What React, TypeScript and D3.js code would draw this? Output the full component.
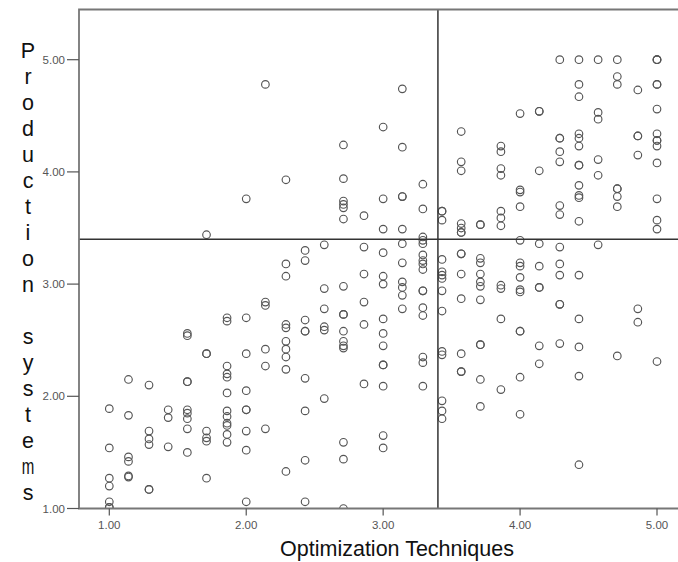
import React from "react";
import * as d3 from "d3";

// Optimization Techniques score levels (x) and the Production systems scores observed at each level (y)
const optimizationLevels = [
  1.0, 1.14, 1.29, 1.43, 1.57, 1.71, 1.86, 2.0, 2.14, 2.29, 2.43, 2.57, 2.71, 2.86, 3.0,
  3.14, 3.29, 3.43, 3.57, 3.71, 3.86, 4.0, 4.14, 4.29, 4.43, 4.57, 4.71, 4.86, 5.0,
];

const productionByLevel: number[][] = [
  [1.89, 1.54, 1.27, 1.2, 1.06, 1.01, 1.01],
  [2.15, 1.83, 1.46, 1.42, 1.29, 1.28],
  [2.1, 1.69, 1.62, 1.57, 1.17, 1.17],
  [1.88, 1.81, 1.55],
  [2.56, 2.54, 2.13, 2.13, 1.88, 1.85, 1.8, 1.71, 1.5],
  [3.44, 2.38, 2.38, 1.69, 1.63, 1.6, 1.27],
  [2.7, 2.67, 2.27, 2.2, 2.17, 2.03, 1.87, 1.82, 1.76, 1.74, 1.66, 1.59],
  [3.76, 2.7, 2.38, 2.05, 1.88, 1.88, 1.69, 1.52, 1.06],
  [4.78, 2.84, 2.81, 2.42, 2.27, 1.71],
  [3.93, 3.18, 3.07, 2.64, 2.61, 2.49, 2.42, 2.35, 2.24, 1.33],
  [3.3, 3.21, 2.68, 2.58, 2.58, 2.16, 1.87, 1.43, 1.06],
  [3.35, 2.96, 2.78, 2.62, 2.59, 1.98],
  [4.24, 3.94, 3.74, 3.71, 3.68, 3.58, 2.98, 2.73, 2.73, 2.58, 2.49, 2.45, 2.43, 1.59, 1.44, 1.0],
  [3.61, 3.33, 3.09, 2.84, 2.64, 2.11],
  [4.4, 3.76, 3.49, 3.28, 3.07, 3.0, 2.69, 2.56, 2.45, 2.28, 2.28, 2.09, 1.65, 1.54],
  [4.74, 4.22, 3.78, 3.78, 3.49, 3.36, 3.19, 3.02, 2.97, 2.9, 2.78],
  [3.89, 3.67, 3.42, 3.39, 3.36, 3.26, 3.21, 3.18, 3.13, 2.94, 2.94, 2.79, 2.72, 2.35, 2.3, 2.09],
  [3.65, 3.65, 3.57, 3.22, 3.11, 3.08, 3.05, 2.94, 2.76, 2.4, 2.37, 1.96, 1.87, 1.8],
  [4.36, 4.09, 4.01, 3.54, 3.5, 3.46, 3.46, 3.27, 3.27, 3.09, 2.87, 2.38, 2.22, 2.22],
  [3.53, 3.53, 3.23, 3.19, 3.09, 3.02, 2.98, 2.86, 2.46, 2.46, 2.15, 1.91],
  [4.23, 4.18, 4.03, 3.97, 3.65, 3.59, 3.52, 2.99, 2.96, 2.69, 2.06],
  [4.52, 3.84, 3.82, 3.69, 3.39, 3.19, 3.16, 3.06, 2.95, 2.93, 2.58, 2.58, 2.17, 1.84],
  [4.54, 4.54, 4.01, 3.36, 3.16, 2.97, 2.97, 2.45, 2.29],
  [5.0, 4.3, 4.3, 4.18, 4.09, 3.7, 3.62, 3.33, 3.18, 3.08, 2.82, 2.82, 2.47],
  [5.0, 4.78, 4.67, 4.34, 4.3, 4.23, 4.06, 4.06, 3.88, 3.79, 3.77, 3.56, 3.08, 2.69, 2.44, 2.18, 1.39],
  [5.0, 4.53, 4.47, 4.11, 3.97, 3.35],
  [5.0, 4.85, 4.78, 3.85, 3.85, 3.78, 3.69, 2.36],
  [4.73, 4.32, 4.32, 4.15, 2.78, 2.66],
  [5.0, 5.0, 5.0, 4.78, 4.78, 4.56, 4.34, 4.28, 4.28, 4.23, 4.08, 3.76, 3.57, 3.49, 2.31],
];

const meanOptimization = 3.4;
const meanProduction = 3.4;

const xTicks = [1, 2, 3, 4, 5];
const yTicks = [1, 2, 3, 4, 5];
const xTitle = "Optimization Techniques";
const yTitle = "Production systems";

const W = 678;
const H = 562;
const plot = { left: 79, top: 9.5, right: 700, bottom: 508.5 };

export default function App() {
  const x = d3.scaleLinear().domain([1, 5]).range([109.3, 657]);
  const y = d3.scaleLinear().domain([1, 5]).range([508.5, 59.7]);

  const points = optimizationLevels.flatMap((ox, i) =>
    productionByLevel[i].map((py) => ({ ox, py }))
  );

  const font = "'Liberation Sans', Arial, sans-serif";
  const letters = yTitle.split("");

  return (
    <svg
      width={W}
      height={H}
      style={{ position: "absolute", left: 0, top: 0, background: "#fff" }}
    >
      <defs>
        <clipPath id="plot-area">
          <rect
            x={plot.left}
            y={plot.top}
            width={plot.right - plot.left}
            height={plot.bottom - plot.top}
          />
        </clipPath>
      </defs>
      <rect x={0} y={0} width={W} height={H} fill="#fff" />

      {/* points */}
      <g clipPath="url(#plot-area)">
        {points.map((p, i) => (
          <circle
            key={i}
            cx={x(p.ox)}
            cy={y(p.py)}
            r={3.8}
            fill="none"
            stroke="#555"
            strokeWidth={1.15}
          />
        ))}
      </g>

      {/* mean reference lines */}
      <line
        x1={x(meanOptimization)}
        x2={x(meanOptimization)}
        y1={plot.top}
        y2={plot.bottom}
        stroke="#333"
        strokeWidth={1.5}
      />
      <line
        x1={plot.left}
        x2={plot.right}
        y1={y(meanProduction)}
        y2={y(meanProduction)}
        stroke="#333"
        strokeWidth={1.5}
      />

      {/* frame */}
      <path
        d={`M${plot.right},${plot.top}H${plot.left}V${plot.bottom}H${plot.right}`}
        fill="none"
        stroke="#777"
        strokeWidth={1.8}
      />

      {/* y axis ticks */}
      {yTicks.map((t) => (
        <g key={`y${t}`}>
          <line x1={67} x2={plot.left} y1={y(t)} y2={y(t)} stroke="#555" strokeWidth={1.2} />
          <text
            x={65}
            y={y(t)}
            dy="0.35em"
            textAnchor="end"
            fontFamily={font}
            fontSize={11.5}
            fill="#555"
          >
            {d3.format(".2f")(t)}
          </text>
        </g>
      ))}

      {/* x axis ticks */}
      {xTicks.map((t) => (
        <g key={`x${t}`}>
          <line x1={x(t)} x2={x(t)} y1={plot.bottom} y2={plot.bottom + 7} stroke="#555" strokeWidth={1.2} />
          <text
            x={x(t)}
            y={plot.bottom + 20}
            textAnchor="middle"
            fontFamily={font}
            fontSize={11.5}
            fill="#555"
          >
            {d3.format(".2f")(t)}
          </text>
        </g>
      ))}

      {/* x axis title */}
      <text
        x={397}
        y={556}
        textAnchor="middle"
        fontFamily={font}
        fontSize={21.5}
        fill="#111"
      >
        {xTitle}
      </text>

      {/* y axis title, one letter per line */}
      {letters.map((ch, i) => (
        <text
          key={`l${i}`}
          x={28}
          y={50 + i * 26}
          dy="0.35em"
          textAnchor="middle"
          fontFamily={font}
          fontSize={21.5}
          fill="#111"
          transform={ch === "m" ? `translate(28,0) scale(0.7,1) translate(-28,0)` : undefined}
        >
          {ch}
        </text>
      ))}
    </svg>
  );
}
